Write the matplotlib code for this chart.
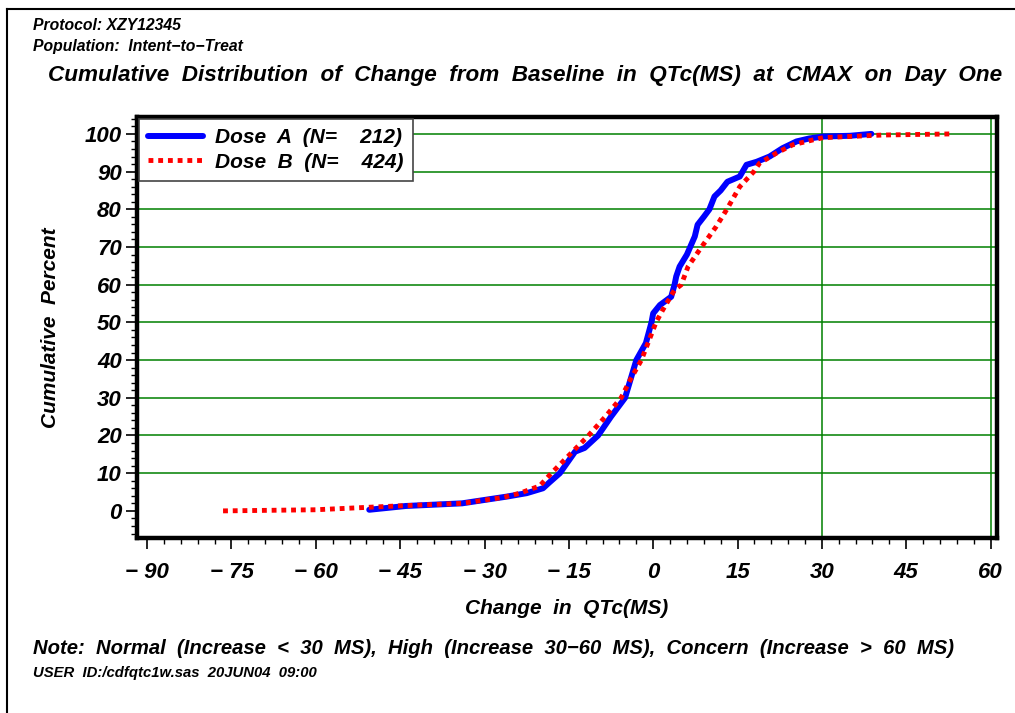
import matplotlib
matplotlib.use("Agg")
import matplotlib.pyplot as plt
from matplotlib.lines import Line2D
from matplotlib.ticker import MultipleLocator

plt.rcParams['font.family'] = ['Liberation Sans', 'DejaVu Sans']

# change in QTc (ms) vs cumulative percent
dose_a_x = [-50.5, -44, -34, -26, -22.5, -19.6, -18.5, -16.6, -13.9, -12.2, -9.8, -7.5,
            -5, -4, -3, -1.3, -0.3, 0, 1.2, 3.2, 3.8, 4.1, 4.7, 6, 7.4, 7.9, 9, 10,
            10.9, 12, 13.2, 15.4, 16.6, 18.4, 20.7, 23, 25.5, 27.8, 30.2, 35, 38.8]
dose_a_y = [0.3, 1.3, 2, 3.8, 4.7, 6, 7.5, 10, 15.7, 16.7, 20, 25,
            30, 35, 40, 44.5, 50, 52.4, 54.6, 56.8, 60, 62.2, 64.8, 68, 72.8, 75.9, 78, 80,
            83.4, 85, 87.3, 88.7, 91.8, 92.6, 94, 96.2, 98, 98.8, 99.3, 99.5, 100]

dose_b_x = [-76.5, -60, -50, -45.6, -34, -26.6, -23.7, -20.2, -18.1, -14.8, -11.5, -8.5,
            -5.7, -4, -2.1, -0.8, 0.5, 1.7, 3.8, 5, 6.2, 8.6, 11.2, 13.1, 15.4, 17.9,
            18.9, 21.9, 24.8, 28.4, 30.2, 40.8, 53.2]
dose_b_y = [0, 0.3, 1, 1.3, 2, 3.6, 4.7, 6.6, 10, 15, 20, 25,
            30, 35, 40, 45, 50, 53.3, 58.6, 60, 64.8, 70, 75.4, 80, 86, 90,
            92.2, 94.9, 97.1, 98.4, 99, 99.7, 100]

labels = ['Dose  A  (N=    212)', 'Dose  B  (N=    424)']
x_ticks = [-90, -75, -60, -45, -30, -15, 0, 15, 30, 45, 60]
y_ticks = [0, 10, 20, 30, 40, 50, 60, 70, 80, 90, 100]

fig = plt.figure(figsize=(10.15, 7.13), dpi=100)
ax = fig.add_axes([0.135, 0.2454, 0.847, 0.5906])

# green reference lines
for yv in y_ticks[1:]:
    ax.axhline(yv, color='#008000', lw=1.1, zorder=1)
for xv in [30, 60]:
    ax.axvline(xv, color='#008000', lw=1.1, zorder=1)

ax.plot(dose_a_x, dose_a_y, color='#0000ff', lw=4.3, solid_capstyle='round',
        label=labels[0], zorder=3)
ax.plot(dose_b_x, dose_b_y, color='#ff0000', lw=3.5, dashes=(1, 1),
        dash_capstyle='butt', label=labels[1], zorder=4)

ax.set_xlim(-91.8, 61.1)
ax.set_ylim(-7.2, 104.5)
ax.set_xticks(x_ticks)
ax.set_yticks(y_ticks)
ax.set_xticklabels(['\u2212 ' + str(-v) if v < 0 else str(v) for v in x_ticks])
ax.xaxis.set_minor_locator(MultipleLocator(3))
ax.yaxis.set_minor_locator(MultipleLocator(2))
ax.tick_params(which='major', direction='out', length=8, width=1.2, pad=9)
ax.tick_params(which='minor', direction='out', length=4, width=1)
ax.tick_params(axis='y', which='major', pad=3)
for lab in ax.get_xticklabels() + ax.get_yticklabels():
    lab.set_fontsize(16)
    lab.set_fontweight('bold')
    lab.set_fontstyle('italic')
for sp in ax.spines.values():
    sp.set_linewidth(3.2)

ax.set_xlabel('Change  in  QTc(MS)', fontsize=15, fontweight='bold', style='italic',
              labelpad=12)
ax.set_ylabel('Cumulative  Percent', fontsize=15, fontweight='bold', style='italic',
              labelpad=18)

leg = ax.legend(loc='upper left', bbox_to_anchor=(0.0, 1.0), borderaxespad=0.1,
                fancybox=False, edgecolor='#444444', framealpha=1, handlelength=2.6,
                borderpad=0.45, labelspacing=0.25, handletextpad=0.6,
                prop={'size': 15, 'weight': 'bold', 'style': 'italic'})
leg.get_frame().set_linewidth(1.2)

fig.text(33 / 1015, 1 - 25 / 713, 'Protocol: XZY12345', fontsize=11.3,
         fontweight='bold', style='italic', va='center')
fig.text(33 / 1015, 1 - 47 / 713, 'Population:  Intent\u2212to\u2212Treat', fontsize=11.3,
         fontweight='bold', style='italic', va='center')
fig.text(525 / 1015, 1 - 75 / 713,
         'Cumulative  Distribution  of  Change  from  Baseline  in  QTc(MS)  at  CMAX  on  Day  One',
         fontsize=16.2, fontweight='bold', style='italic', ha='center', va='center')
fig.text(33 / 1015, 1 - 648 / 713,
         'Note:  Normal  (Increase  <  30  MS),  High  (Increase  30\u221260  MS),  Concern  (Increase  >  60  MS)',
         fontsize=14.6, fontweight='bold', style='italic', va='center')
fig.text(33 / 1015, 1 - 673 / 713, 'USER  ID:/cdfqtc1w.sas  20JUN04  09:00', fontsize=10.7,
         fontweight='bold', style='italic', va='center')

# outer frame (left and top edges visible)
fig.add_artist(Line2D([7 / 1015, 7 / 1015], [0, 1 - 9 / 713], color='black', lw=1.5))
fig.add_artist(Line2D([7 / 1015, 1], [1 - 9 / 713, 1 - 9 / 713], color='black', lw=1.5))

fig.savefig('out.png', dpi=100)
